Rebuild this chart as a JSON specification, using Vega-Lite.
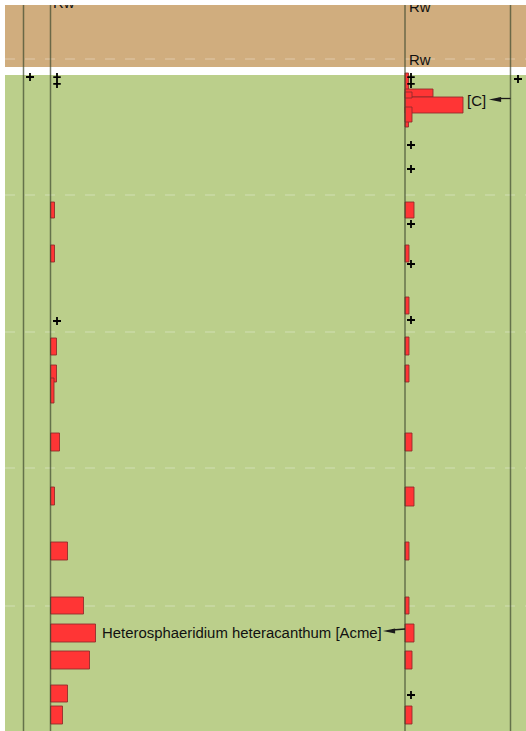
{
  "$schema": "https://vega.github.io/schema/vega-lite/v6.json",
  "width": 526,
  "height": 731,
  "padding": 0,
  "autosize": "none",
  "background": "white",
  "config": {"view": {"stroke": null}},
  "datasets": {
    "zones": [
      {"zone": "Rw", "left": 5, "right": 526, "top": 5, "bottom": 67, "color": "tan"},
      {"zone": "below", "left": 5, "right": 526, "top": 75, "bottom": 731, "color": "green"}
    ],
    "grid": [{"depth": 59}, {"depth": 195}, {"depth": 332}, {"depth": 468}, {"depth": 606}],
    "columns": [{"pos": 23.5}, {"pos": 50.5}, {"pos": 405}, {"pos": 510.5}],
    "bars": [
      {"col": "L", "top": 202, "bottom": 218, "count": 4},
      {"col": "L", "top": 245, "bottom": 262, "count": 4},
      {"col": "L", "top": 338, "bottom": 355, "count": 6},
      {"col": "L", "top": 365, "bottom": 382, "count": 6},
      {"col": "L", "top": 378, "bottom": 403, "count": 3.5},
      {"col": "L", "top": 433, "bottom": 451, "count": 9},
      {"col": "L", "top": 487, "bottom": 505, "count": 4},
      {"col": "L", "top": 542, "bottom": 560, "count": 17},
      {"col": "L", "top": 597, "bottom": 614, "count": 33},
      {"col": "L", "top": 624, "bottom": 642, "count": 45},
      {"col": "L", "top": 651, "bottom": 669, "count": 39},
      {"col": "L", "top": 685, "bottom": 702, "count": 17},
      {"col": "L", "top": 706, "bottom": 724, "count": 12},
      {"col": "R", "top": 73, "bottom": 127, "count": 3.5},
      {"col": "R", "top": 89, "bottom": 97, "count": 28},
      {"col": "R", "top": 97, "bottom": 113, "count": 58},
      {"col": "R", "top": 92, "bottom": 98, "count": 7},
      {"col": "R", "top": 107, "bottom": 122, "count": 7},
      {"col": "R", "top": 202, "bottom": 218, "count": 9},
      {"col": "R", "top": 245, "bottom": 262, "count": 4},
      {"col": "R", "top": 297, "bottom": 314, "count": 4},
      {"col": "R", "top": 337, "bottom": 355, "count": 4},
      {"col": "R", "top": 365, "bottom": 382, "count": 4},
      {"col": "R", "top": 433, "bottom": 451, "count": 7},
      {"col": "R", "top": 487, "bottom": 506, "count": 9},
      {"col": "R", "top": 542, "bottom": 560, "count": 4},
      {"col": "R", "top": 597, "bottom": 614, "count": 4},
      {"col": "R", "top": 624, "bottom": 642, "count": 9},
      {"col": "R", "top": 651, "bottom": 669, "count": 7},
      {"col": "R", "top": 706, "bottom": 724, "count": 7}
    ],
    "plus": [
      {"x": 30, "y": 77}, {"x": 57, "y": 321}, {"x": 518, "y": 79},
      {"x": 411, "y": 145}, {"x": 411, "y": 169}, {"x": 411, "y": 224},
      {"x": 411, "y": 264}, {"x": 411, "y": 320}, {"x": 411, "y": 695}
    ],
    "dagger": [{"x": 57, "y": 80.5}, {"x": 411, "y": 80.5}],
    "labels": [
      {"text": "Rw", "x": 53, "y": 8},
      {"text": "Rw", "x": 409, "y": 12},
      {"text": "Rw", "x": 409, "y": 65},
      {"text": "[C]", "x": 467, "y": 106},
      {"text": "Heterosphaeridium heteracanthum [Acme]", "x": 102, "y": 638}
    ],
    "arrowLines": [
      {"x": 498, "y": 98.5, "x2": 510.5, "y2": 98.5},
      {"x": 392, "y": 630, "x2": 405, "y2": 629}
    ],
    "arrowHeads": [
      {"x": 495, "y": 99.5},
      {"x": 389, "y": 631}
    ]
  },
  "layer": [
    {
      "data": {"name": "zones"},
      "mark": {"type": "rect"},
      "encoding": {
        "x": {"field": "left", "type": "quantitative", "scale": {"domain": [0, 526], "nice": false, "zero": false}, "axis": null},
        "x2": {"field": "right"},
        "y": {"field": "top", "type": "quantitative", "scale": {"domain": [0, 731], "nice": false, "zero": false, "reverse": true}, "axis": null},
        "y2": {"field": "bottom"},
        "color": {"field": "color", "type": "nominal", "scale": {"domain": ["tan", "green"], "range": ["#d0ad7e", "#bbcf8b"]}, "legend": null}
      }
    },
    {
      "data": {"name": "grid"},
      "mark": {"type": "rule", "stroke": "#ffffff", "strokeOpacity": 0.35, "strokeWidth": 1.2, "strokeDash": [10, 10]},
      "encoding": {
        "y": {"field": "depth", "type": "quantitative"},
        "x": {"datum": 5, "type": "quantitative"},
        "x2": {"datum": 526}
      }
    },
    {
      "data": {"name": "bars"},
      "transform": [
        {"calculate": "datum.col === 'L' ? 50.5 : 405", "as": "x0"},
        {"calculate": "datum.x0 + datum.count", "as": "x1"}
      ],
      "mark": {"type": "rect", "fill": "#ff3535", "stroke": "#8e2a2a", "strokeWidth": 1, "strokeOpacity": 0.85},
      "encoding": {
        "x": {"field": "x0", "type": "quantitative"},
        "x2": {"field": "x1"},
        "y": {"field": "top", "type": "quantitative"},
        "y2": {"field": "bottom"}
      }
    },
    {
      "data": {"name": "columns"},
      "mark": {"type": "rule", "stroke": "#3f4a30", "strokeOpacity": 0.7, "strokeWidth": 1.5},
      "encoding": {
        "x": {"field": "pos", "type": "quantitative"},
        "y": {"datum": 5, "type": "quantitative"},
        "y2": {"datum": 731}
      }
    },
    {
      "data": {"name": "plus"},
      "mark": {"type": "point", "shape": "M0,-1V1M-1,0H1", "size": 64, "filled": false, "stroke": "#000000", "strokeWidth": 1.8, "opacity": 1},
      "encoding": {
        "x": {"field": "x", "type": "quantitative"},
        "y": {"field": "y", "type": "quantitative"}
      }
    },
    {
      "data": {"name": "dagger"},
      "mark": {"type": "point", "shape": "M0,-1V1M-0.5,-0.45H0.5M-0.5,0.45H0.5", "size": 225, "filled": false, "stroke": "#000000", "strokeWidth": 1.8, "opacity": 1},
      "encoding": {
        "x": {"field": "x", "type": "quantitative"},
        "y": {"field": "y", "type": "quantitative"}
      }
    },
    {
      "data": {"name": "labels"},
      "mark": {"type": "text", "align": "left", "baseline": "alphabetic", "font": "Liberation Sans", "fontSize": 14.9, "color": "#111111"},
      "encoding": {
        "x": {"field": "x", "type": "quantitative"},
        "y": {"field": "y", "type": "quantitative"},
        "text": {"field": "text", "type": "nominal"}
      }
    },
    {
      "data": {"name": "arrowLines"},
      "mark": {"type": "rule", "stroke": "#1a1a1a", "strokeWidth": 1.3},
      "encoding": {
        "x": {"field": "x", "type": "quantitative"},
        "y": {"field": "y", "type": "quantitative"},
        "x2": {"field": "x2"},
        "y2": {"field": "y2"}
      }
    },
    {
      "data": {"name": "arrowHeads"},
      "mark": {"type": "point", "shape": "M-1,0L1,-0.4L1,0.4Z", "size": 150, "filled": true, "fill": "#1a1a1a", "opacity": 1, "strokeWidth": 0},
      "encoding": {
        "x": {"field": "x", "type": "quantitative"},
        "y": {"field": "y", "type": "quantitative"}
      }
    },
    {
      "data": {"values": [{"left": 0, "right": 526, "top": 0, "bottom": 5}]},
      "mark": {"type": "rect", "fill": "#ffffff"},
      "encoding": {
        "x": {"field": "left", "type": "quantitative"},
        "x2": {"field": "right"},
        "y": {"field": "top", "type": "quantitative"},
        "y2": {"field": "bottom"}
      }
    }
  ]
}
